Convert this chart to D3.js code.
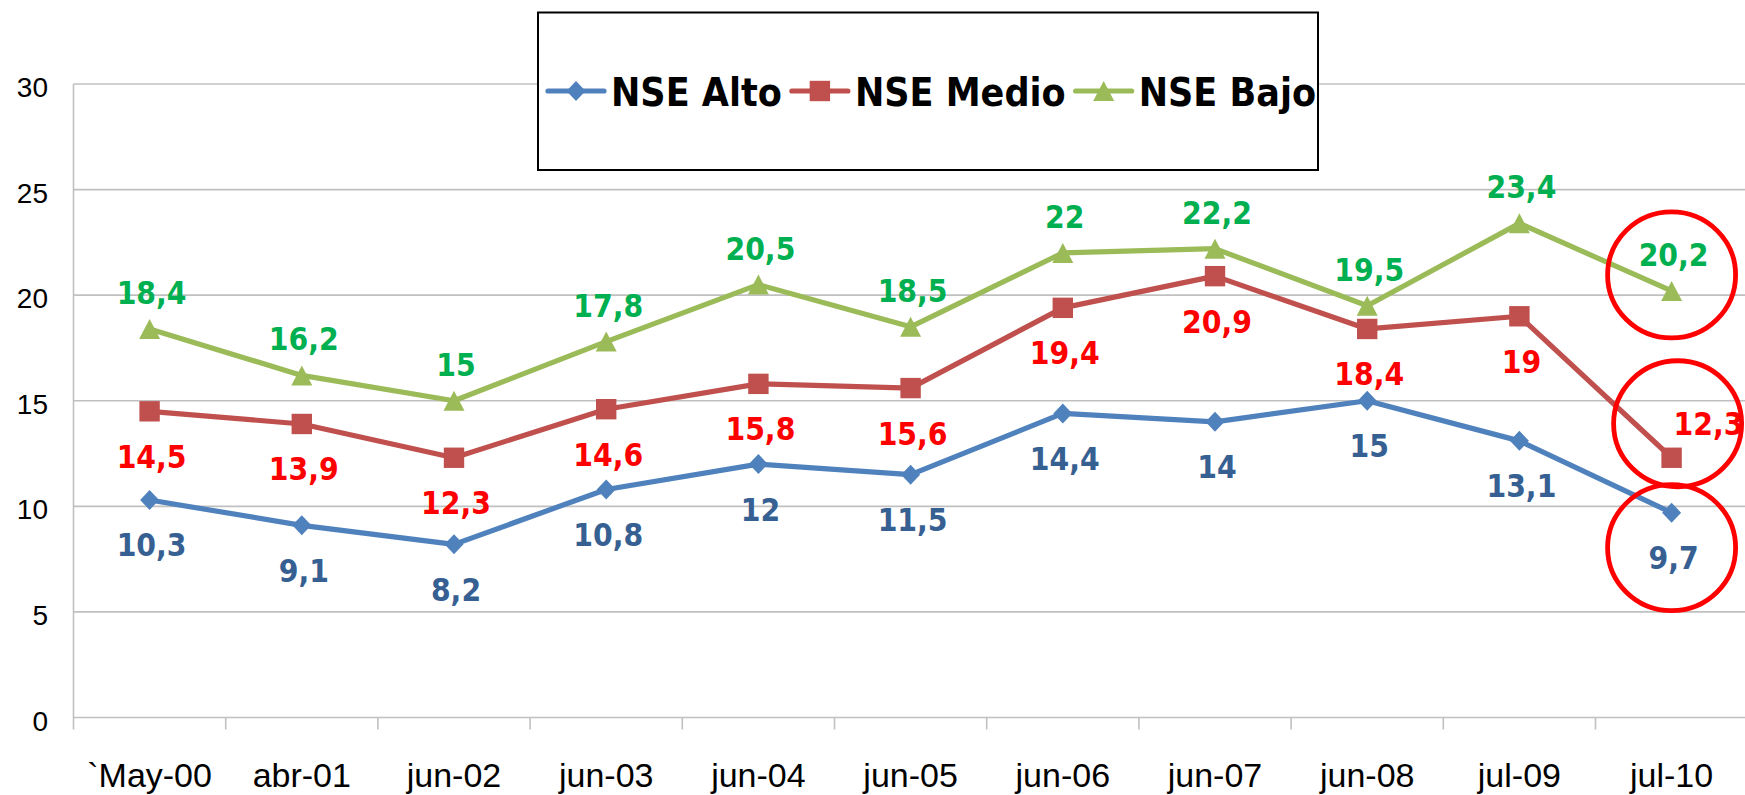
<!DOCTYPE html>
<html>
<head>
<meta charset="utf-8">
<script src="https://cdn.jsdelivr.net/npm/d3@7"></script>
<style>
  html, body { margin: 0; padding: 0; background: #ffffff; overflow: hidden; }
  svg { display: block; }
  .lbl { font-family: "DejaVu Sans Condensed", "DejaVu Sans", sans-serif; font-stretch: condensed; font-weight: bold; }
  .axis { font-family: "Liberation Sans", Arial, sans-serif; fill: #000; }
</style>
</head>
<body>
<svg id="chart" width="1745" height="795"></svg>
<script>
// ---- data ----
const categories = ["`May-00", "abr-01", "jun-02", "jun-03", "jun-04", "jun-05", "jun-06", "jun-07", "jun-08", "jul-09", "jul-10"];
const seriesNames = ["NSE Alto", "NSE Medio", "NSE Bajo"];
const alto  = [10.3, 9.1, 8.2, 10.8, 12, 11.5, 14.4, 14, 15, 13.1, 9.7];
const medio = [14.5, 13.9, 12.3, 14.6, 15.8, 15.6, 19.4, 20.9, 18.4, 19, 12.3];
const bajo  = [18.4, 16.2, 15, 17.8, 20.5, 18.5, 22, 22.2, 19.5, 23.4, 20.2];
const yTicks = [0, 5, 10, 15, 20, 25, 30];
const highlighted = ["jul-10"];

// ---- styles ----
const seriesStyle = [
  { values: alto,  line: "#4F81BD", label: "#376092", marker: "diamond",  pos: "below" },
  { values: medio, line: "#C0504D", label: "#FF0000", marker: "square",   pos: "below" },
  { values: bajo,  line: "#9BBB59", label: "#00B050", marker: "triangle", pos: "above" }
];

const svg = d3.select("#chart");
const left = 73.5, bandW = 152.2;
const x = d3.scaleBand().domain(categories).range([left, left + bandW * categories.length]).padding(0);
const y = d3.scaleLinear().domain([0, 30]).range([717.5, 84]);
const cx = c => x(c) + x.bandwidth() / 2;
const grid = "#c0c0c0";

// gridlines
svg.append("g").selectAll("line").data(yTicks).join("line")
  .attr("x1", left).attr("x2", x.range()[1])
  .attr("y1", d => y(d)).attr("y2", d => y(d))
  .attr("stroke", grid).attr("stroke-width", 1.6);

// left axis line
svg.append("line").attr("x1", left).attr("x2", left)
  .attr("y1", y(30)).attr("y2", y(0) + 12).attr("stroke", grid).attr("stroke-width", 1.6);

// x ticks at band boundaries
svg.append("g").selectAll("line").data(categories.slice(1)).join("line")
  .attr("x1", d => x(d)).attr("x2", d => x(d))
  .attr("y1", y(0)).attr("y2", y(0) + 12)
  .attr("stroke", grid).attr("stroke-width", 1.6);

// y labels
svg.append("g").selectAll("text").data(yTicks).join("text")
  .attr("class", "axis").attr("x", 48).attr("y", d => y(d) + 13)
  .attr("text-anchor", "end").attr("font-size", 28).text(d => d);

// x labels
svg.append("g").selectAll("text").data(categories).join("text")
  .attr("class", "axis").attr("x", d => cx(d)).attr("y", 787)
  .attr("text-anchor", "middle").attr("font-size", 34).text(d => d);

// marker path generator
function markerPath(type, px, py) {
  const p = d3.path();
  if (type === "diamond") {
    const rx = 9.5, ry = 10;
    p.moveTo(px, py - ry); p.lineTo(px + rx, py); p.lineTo(px, py + ry); p.lineTo(px - rx, py); p.closePath();
  } else if (type === "square") {
    const h = 10.2;
    p.rect(px - h, py - h, 2 * h, 2 * h);
  } else {
    const w = 10.5, h = 10;
    p.moveTo(px, py - h); p.lineTo(px + w, py + h); p.lineTo(px - w, py + h); p.closePath();
  }
  return p.toString();
}

const line = d3.line().x((d, i) => cx(categories[i])).y(d => y(d));
const fmt = v => String(v).replace(".", ",");

seriesStyle.forEach(s => {
  svg.append("path").datum(s.values).attr("d", line)
    .attr("fill", "none").attr("stroke", s.line).attr("stroke-width", 5.2)
    .attr("stroke-linejoin", "round").attr("stroke-linecap", "round");
  svg.append("g").selectAll("path").data(s.values).join("path")
    .attr("d", (d, i) => markerPath(s.marker, cx(categories[i]), y(d)))
    .attr("fill", s.line);
});

// data labels
seriesStyle.forEach(s => {
  svg.append("g").selectAll("text").data(s.values).join("text")
    .attr("class", "lbl").attr("font-size", 31.5).attr("fill", s.label)
    .each(function (d, i) {
      const t = d3.select(this);
      const px = cx(categories[i]), py = y(d);
      const special = s.marker === "square" && highlighted.includes(categories[i]);
      if (special) {
        t.attr("x", px + 2).attr("y", py - 23).attr("text-anchor", "start");
      } else if (s.pos === "below") {
        t.attr("x", px + 2).attr("y", py + 56.5).attr("text-anchor", "middle");
      } else {
        t.attr("x", px + 2).attr("y", py - 25).attr("text-anchor", "middle");
      }
      t.text(fmt(d));
    });
});

// highlight circles around last points
highlighted.forEach(c => {
  const i = categories.indexOf(c);
  const spots = [
    { x: cx(c), y: y(bajo[i]) - 16 },
    { x: cx(c) + 6, y: y(medio[i]) - 34 },
    { x: cx(c), y: y(alto[i]) + 35 }
  ];
  svg.append("g").selectAll("ellipse").data(spots).join("ellipse")
    .attr("cx", d => d.x).attr("cy", d => d.y).attr("rx", 64).attr("ry", 63)
    .attr("fill", "none").attr("stroke", "#FF0000").attr("stroke-width", 4.8);
});

// legend
const lg = svg.append("g");
lg.append("rect").attr("x", 538).attr("y", 12.5).attr("width", 780).attr("height", 157.5)
  .attr("fill", "#fff").attr("stroke", "#000").attr("stroke-width", 2);
let lx = 548;
const ly = 91;
seriesNames.forEach((name, k) => {
  const s = seriesStyle[k];
  lg.append("line").attr("x1", lx).attr("x2", lx + 56).attr("y1", ly).attr("y2", ly)
    .attr("stroke", s.line).attr("stroke-width", 5.2).attr("stroke-linecap", "round");
  lg.append("path").attr("d", markerPath(s.marker, lx + 28, ly)).attr("fill", s.line);
  const t = lg.append("text").attr("class", "lbl").attr("x", lx + 63).attr("y", ly + 14.5)
    .attr("font-size", 39).attr("fill", "#000").text(name);
  lx = lx + 63 + t.node().getComputedTextLength() + 10;
});
</script>
</body>
</html>
